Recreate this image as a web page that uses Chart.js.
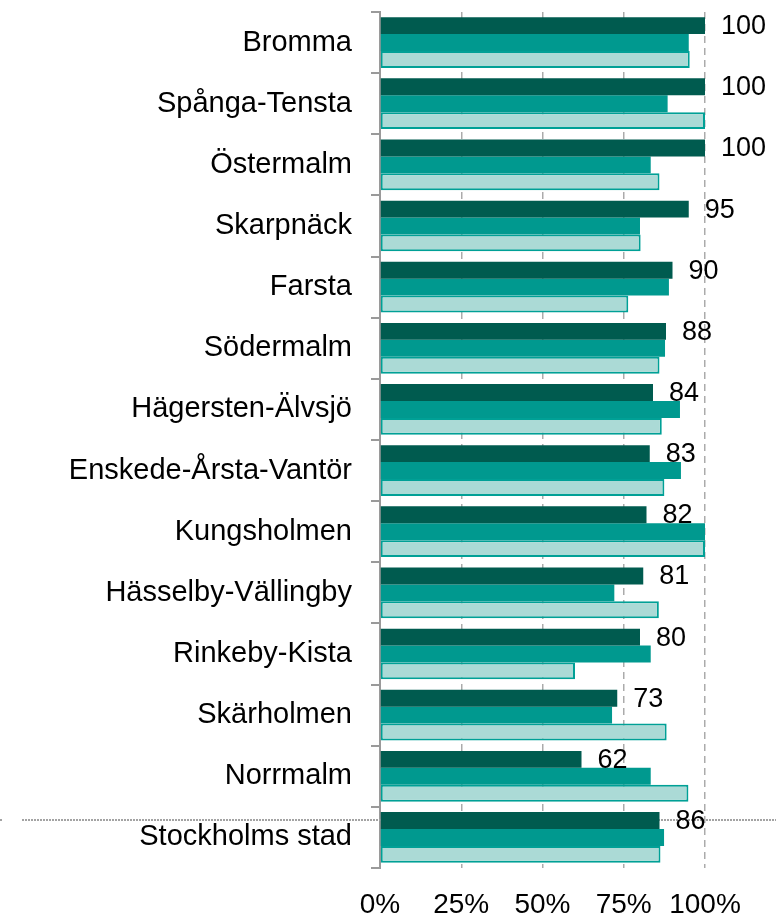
<!DOCTYPE html>
<html>
<head>
<meta charset="utf-8">
<script src="https://cdn.jsdelivr.net/npm/chart.js@4"></script>
<style>
  html, body { margin: 0; padding: 0; background: #ffffff; }
  #c { display: block; }
</style>
</head>
<body>
<canvas id="c" width="779" height="917"></canvas>
<script>
const categories = [
  'Bromma', 'Spånga-Tensta', 'Östermalm', 'Skarpnäck', 'Farsta', 'Södermalm',
  'Hägersten-Älvsjö', 'Enskede-Årsta-Vantör', 'Kungsholmen', 'Hässelby-Vällingby',
  'Rinkeby-Kista', 'Skärholmen', 'Norrmalm', 'Stockholms stad'
];
const darkValues  = [100, 100, 100, 95, 90, 88, 84, 83, 82, 81, 80, 73, 62, 86];
const midValues   = [95, 88.5, 83.3, 80, 88.9, 87.7, 92.3, 92.6, 100, 72.1, 83.3, 71.4, 83.3, 87.4];
const lightValues = [95.3, 100, 86, 80.2, 76.4, 86, 86.7, 87.5, 100, 85.8, 60, 88.2, 94.9, 86.3];
const valueLabels = ['100', '100', '100', '95', '90', '88', '84', '83', '82', '81', '80', '73', '62', '86'];
const tickValues  = [0, 25, 50, 75, 100];

const FONT = "'Liberation Sans', Arial, sans-serif";

const valueLabelPlugin = {
  id: 'valueLabels',
  afterDatasetsDraw(chart) {
    const ctx = chart.ctx;
    const meta = chart.getDatasetMeta(0);
    ctx.save();
    ctx.font = '27px ' + FONT;
    ctx.fillStyle = '#000000';
    ctx.textAlign = 'left';
    ctx.textBaseline = 'middle';
    meta.data.forEach((bar, i) => {
      ctx.fillText(valueLabels[i], bar.x + 16, bar.y + 1);
    });
    ctx.restore();
  }
};

const separatorPlugin = {
  id: 'separator',
  beforeDatasetsDraw(chart) {
    const ctx = chart.ctx;
    const y = chart.scales.y;
    const n = categories.length;
    const boundary = (y.getPixelForValue(n - 2) + y.getPixelForValue(n - 1)) / 2;
    const py = Math.round(boundary + 13);
    ctx.save();
    ctx.strokeStyle = '#a3a3a3';
    ctx.lineWidth = 2;
    ctx.setLineDash([2, 1]);
    ctx.beginPath();
    ctx.moveTo(0, py); ctx.lineTo(3, py);
    ctx.moveTo(22, py); ctx.lineTo(776, py);
    ctx.stroke();
    ctx.restore();
  }
};

new Chart(document.getElementById('c'), {
  type: 'bar',
  data: {
    labels: categories,
    datasets: [
      { label: 'A', data: darkValues, backgroundColor: '#005b4f', borderWidth: 0 },
      { label: 'B', data: midValues, backgroundColor: '#00998f', borderWidth: 0 },
      { label: 'C', data: lightValues, backgroundColor: '#abdad6', borderColor: '#00a096', borderWidth: 2, borderSkipped: false }
    ]
  },
  options: {
    indexAxis: 'y',
    responsive: false,
    animation: false,
    devicePixelRatio: 1,
    layout: { padding: { top: 12, right: 74, bottom: 0, left: 0 } },
    datasets: { bar: { categoryPercentage: 0.83, barPercentage: 1.0 } },
    plugins: {
      legend: { display: false },
      tooltip: { enabled: false }
    },
    scales: {
      x: {
        min: 0, max: 100,
        afterBuildTicks(scale) { scale.ticks = tickValues.map(v => ({ value: v })); },
        afterFit(scale) { scale.height = 49; },
        border: { display: false, dash: [7, 5] },
        grid: { color: '#ababab', lineWidth: 1.5, drawTicks: false },
        ticks: {
          padding: 20,
          color: '#000000',
          font: { family: FONT, size: 28 },
          callback: v => v + '%'
        }
      },
      y: {
        afterFit(scale) {
          scale.width = 380;
          scale.paddingTop = 0;
          scale.paddingBottom = 0;
        },
        border: { display: true, color: '#9a9a9a', width: 2 },
        grid: { display: true, drawOnChartArea: false, drawTicks: true, tickLength: 9, color: '#9a9a9a', lineWidth: 2, offset: true },
        ticks: {
          padding: 19,
          color: '#000000',
          font: { family: FONT, size: 29 }
        }
      }
    }
  },
  plugins: [separatorPlugin, valueLabelPlugin]
});
</script>
</body>
</html>
